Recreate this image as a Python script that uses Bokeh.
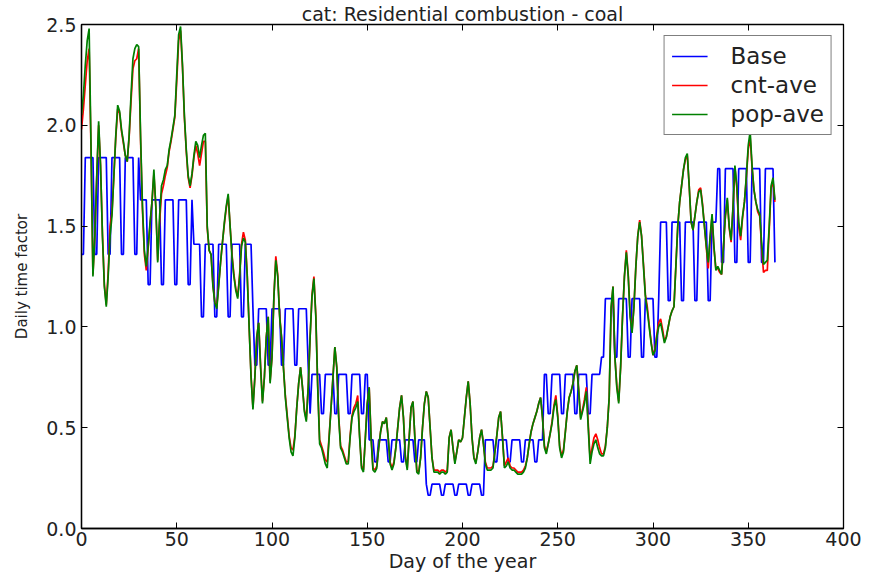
from bokeh.plotting import figure
from bokeh.models import (Range1d, LinearAxis, FixedTicker, PrintfTickFormatter,
                          Legend, LegendItem, ColumnDataSource)
from bokeh.embed import file_html
from bokeh.resources import INLINE

# ---------------- data ----------------
title_text = "cat: Residential combustion - coal"
x_label = "Day of the year"
y_label = "Daily time factor"
series_names = ["Base", "cnt-ave", "pop-ave"]

x_ticks = [0, 50, 100, 150, 200, 250, 300, 350, 400]
y_ticks = [0.0, 0.5, 1.0, 1.5, 2.0, 2.5]

# Base profile: monthly level on weekdays / weekend days (day 0 = Saturday 1 Jan)
month_lengths = [31, 28, 31, 30, 31, 30, 31, 31, 30, 31, 30, 31]
base_weekday = [1.84, 1.63, 1.41, 1.09, 0.765, 0.44, 0.22, 0.44, 0.765, 1.14, 1.52, 1.785]
base_weekend = [1.36, 1.21, 1.05, 0.81, 0.57, 0.33, 0.165, 0.33, 0.57, 0.85, 1.13, 1.32]
week_pattern = ["we", "we", "wd", "wd", "wd", "wd", "wd"]

pop_ave = [
    2.05, 2.15, 2.30, 2.42, 2.48, 1.90, 1.25, 1.45, 1.75, 2.02,
    1.80, 1.45, 1.20, 1.10, 1.25, 1.45, 1.55, 1.75, 1.95, 2.10,
    2.07, 1.98, 1.92, 1.85, 1.82, 1.95, 2.15, 2.33, 2.38, 2.40,
    2.39, 1.95, 1.60, 1.38, 1.30, 1.40, 1.52, 1.62, 1.78, 1.60,
    1.32, 1.55, 1.70, 1.73, 1.78, 1.80, 1.88, 1.93, 1.99, 2.05,
    2.25, 2.45, 2.49, 2.30, 2.05, 1.88, 1.75, 1.70, 1.76, 1.85,
    1.92, 1.90, 1.84, 1.90, 1.95, 1.96, 1.50, 1.38, 1.36, 1.20,
    1.12, 1.09, 1.20, 1.32, 1.42, 1.52, 1.60, 1.66, 1.50, 1.35,
    1.25, 1.18, 1.14, 1.25, 1.40, 1.44, 1.42, 1.25, 1.00, 0.75,
    0.59, 0.75, 0.95, 1.02, 0.80, 0.62, 0.75, 0.95, 1.05, 0.72,
    0.85, 1.15, 1.33, 1.25, 1.05, 0.95, 0.80, 0.65, 0.55, 0.45,
    0.38, 0.36, 0.45, 0.60, 0.72, 0.80, 0.70, 0.58, 0.53, 0.70,
    0.95, 1.15, 1.24, 1.05, 0.70, 0.42, 0.40, 0.36, 0.32, 0.30,
    0.45, 0.60, 0.75, 0.90, 0.80, 0.55, 0.40, 0.38, 0.35, 0.32,
    0.32, 0.45, 0.55, 0.58, 0.60, 0.63, 0.45, 0.30, 0.28, 0.45,
    0.62, 0.70, 0.45, 0.29, 0.28, 0.30, 0.40, 0.48, 0.53, 0.52,
    0.55, 0.45, 0.32, 0.29, 0.32, 0.40, 0.50, 0.60, 0.66, 0.55,
    0.35, 0.29, 0.45, 0.60, 0.63, 0.45, 0.28, 0.27, 0.35, 0.50,
    0.62, 0.68, 0.65, 0.50, 0.35, 0.28, 0.28, 0.28, 0.27, 0.28,
    0.28, 0.27, 0.28, 0.45, 0.49, 0.40, 0.32, 0.38, 0.44, 0.43,
    0.45, 0.55, 0.65, 0.73, 0.62, 0.45, 0.35, 0.32, 0.38, 0.45,
    0.49, 0.42, 0.32, 0.29, 0.29, 0.29, 0.30, 0.38, 0.46, 0.55,
    0.58, 0.45, 0.30, 0.31, 0.33, 0.30, 0.29, 0.29, 0.28, 0.27,
    0.27, 0.27, 0.28, 0.30, 0.35, 0.42, 0.48, 0.52, 0.55, 0.58,
    0.62, 0.65, 0.55, 0.40, 0.37, 0.42, 0.47, 0.52, 0.60, 0.64,
    0.55, 0.40, 0.35, 0.38, 0.48, 0.58, 0.65, 0.68, 0.72, 0.78,
    0.81, 0.68, 0.54, 0.58, 0.62, 0.68, 0.50, 0.32, 0.38, 0.42,
    0.44, 0.40, 0.37, 0.36, 0.36, 0.40, 0.50, 0.65, 1.10, 1.20,
    0.85, 0.70, 0.62, 0.80, 1.05, 1.25, 1.37, 1.25, 1.05, 0.97,
    1.10, 1.30, 1.45, 1.52, 1.45, 1.30, 1.15, 1.08, 1.00, 0.92,
    0.86, 0.88, 0.95, 1.00, 1.02, 0.97, 0.92, 0.95, 1.00, 1.05,
    1.08, 1.10, 1.30, 1.50, 1.62, 1.70, 1.78, 1.84, 1.86, 1.70,
    1.52, 1.48, 1.55, 1.62, 1.67, 1.68, 1.60, 1.50, 1.40, 1.32,
    1.45, 1.56, 1.40, 1.28, 1.30, 1.28, 1.26, 1.40, 1.55, 1.64,
    1.50, 1.43, 1.60, 1.80, 1.70, 1.52, 1.45, 1.55, 1.62, 1.75,
    1.90, 1.97, 1.80, 1.68, 1.62, 1.58, 1.56, 1.42, 1.31, 1.32,
    1.33, 1.50, 1.70, 1.74, 1.63,
]

cnt_ave = [
    1.98, 2.08, 2.20, 2.32, 2.38, 1.88, 1.26, 1.45, 1.74, 2.00,
    1.80, 1.46, 1.21, 1.11, 1.27, 1.50, 1.57, 1.75, 1.94, 2.08,
    2.06, 1.97, 1.91, 1.85, 1.82, 1.94, 2.12, 2.28, 2.32, 2.33,
    2.38, 1.93, 1.58, 1.36, 1.28, 1.39, 1.51, 1.62, 1.76, 1.60,
    1.33, 1.52, 1.66, 1.70, 1.75, 1.79, 1.87, 1.92, 1.98, 2.04,
    2.22, 2.42, 2.47, 2.29, 2.04, 1.87, 1.74, 1.69, 1.75, 1.84,
    1.90, 1.86, 1.80, 1.86, 1.92, 1.92, 1.49, 1.38, 1.36, 1.21,
    1.12, 1.10, 1.21, 1.32, 1.42, 1.51, 1.59, 1.65, 1.50, 1.36,
    1.26, 1.19, 1.15, 1.26, 1.41, 1.47, 1.43, 1.26, 1.00, 0.76,
    0.60, 0.75, 0.95, 1.02, 0.81, 0.63, 0.75, 0.95, 1.05, 0.73,
    0.85, 1.15, 1.35, 1.26, 1.06, 0.95, 0.80, 0.66, 0.56, 0.46,
    0.40, 0.39, 0.46, 0.60, 0.72, 0.80, 0.70, 0.59, 0.54, 0.70,
    0.95, 1.16, 1.25, 1.06, 0.71, 0.44, 0.41, 0.38, 0.34, 0.33,
    0.46, 0.60, 0.75, 0.90, 0.80, 0.56, 0.41, 0.39, 0.36, 0.33,
    0.33, 0.46, 0.56, 0.60, 0.62, 0.66, 0.46, 0.31, 0.29, 0.45,
    0.62, 0.70, 0.46, 0.30, 0.29, 0.31, 0.40, 0.48, 0.53, 0.52,
    0.55, 0.45, 0.33, 0.30, 0.33, 0.40, 0.50, 0.60, 0.66, 0.55,
    0.36, 0.30, 0.45, 0.60, 0.63, 0.45, 0.29, 0.28, 0.35, 0.50,
    0.62, 0.68, 0.65, 0.50, 0.35, 0.29, 0.29, 0.29, 0.28, 0.29,
    0.29, 0.28, 0.29, 0.45, 0.49, 0.40, 0.33, 0.38, 0.44, 0.43,
    0.45, 0.55, 0.65, 0.73, 0.62, 0.45, 0.35, 0.33, 0.38, 0.45,
    0.49, 0.42, 0.33, 0.30, 0.30, 0.30, 0.31, 0.38, 0.46, 0.55,
    0.58, 0.45, 0.31, 0.33, 0.35, 0.31, 0.30, 0.30, 0.29, 0.28,
    0.28, 0.28, 0.29, 0.31, 0.35, 0.42, 0.48, 0.52, 0.55, 0.58,
    0.62, 0.65, 0.55, 0.41, 0.38, 0.42, 0.47, 0.53, 0.61, 0.66,
    0.56, 0.41, 0.36, 0.39, 0.48, 0.58, 0.65, 0.68, 0.72, 0.78,
    0.81, 0.69, 0.55, 0.59, 0.64, 0.70, 0.52, 0.34, 0.40, 0.45,
    0.47, 0.44, 0.40, 0.37, 0.37, 0.41, 0.50, 0.65, 1.08, 1.20,
    0.85, 0.71, 0.63, 0.80, 1.05, 1.25, 1.38, 1.26, 1.06, 0.98,
    1.10, 1.30, 1.45, 1.53, 1.45, 1.31, 1.16, 1.10, 1.01, 0.93,
    0.86, 0.89, 0.96, 1.02, 1.04, 0.99, 0.93, 0.95, 1.00, 1.05,
    1.08, 1.10, 1.30, 1.50, 1.62, 1.70, 1.78, 1.83, 1.85, 1.70,
    1.52, 1.48, 1.55, 1.62, 1.68, 1.69, 1.61, 1.50, 1.39, 1.29,
    1.44, 1.55, 1.39, 1.29, 1.29, 1.27, 1.26, 1.40, 1.55, 1.63,
    1.49, 1.42, 1.59, 1.79, 1.69, 1.50, 1.43, 1.54, 1.62, 1.74,
    1.88, 1.94, 1.79, 1.68, 1.62, 1.57, 1.55, 1.40, 1.27, 1.28,
    1.28, 1.48, 1.69, 1.72, 1.62,
]

# expand Base daily series from the monthly levels and weekly pattern
base = []
for m, n in enumerate(month_lengths):
    for _ in range(n):
        d = len(base)
        kind = week_pattern[d % 7]
        base.append(base_weekday[m] if kind == "wd" else base_weekend[m])
days = list(range(len(base)))

src = ColumnDataSource(dict(day=days, base=base, cnt=cnt_ave, pop=pop_ave))

# ---------------- figure ----------------
FONT = "DejaVu Sans"
TXT = "#222222"
p = figure(width=864, height=574, output_backend="svg", toolbar_location=None,
           x_range=Range1d(0, 400), y_range=Range1d(0, 2.5),
           min_border_left=81, min_border_right=21, min_border_top=24,
           min_border_bottom=46, title=title_text)
p.background_fill_color = "white"
p.border_fill_color = "white"
p.grid.visible = False
p.outline_line_color = "black"
p.outline_line_width = 1.3

p.title.text_font = FONT
p.title.text_font_size = "19px"
p.title.text_font_style = "normal"
p.title.text_color = TXT
p.title.align = "center"
p.title.standoff = 0

r_base = p.line("day", "base", source=src, line_color="#0000ff", line_width=1.7)
r_cnt = p.line("day", "cnt", source=src, line_color="#ff0000", line_width=1.7)
r_pop = p.line("day", "pop", source=src, line_color="#008000", line_width=1.7)

# axes
xax = p.xaxis[0]
yax = p.yaxis[0]
xax.ticker = FixedTicker(ticks=x_ticks)
yax.ticker = FixedTicker(ticks=y_ticks)
yax.formatter = PrintfTickFormatter(format="%.1f")
xax.axis_label = x_label
yax.axis_label = y_label

for ax in (xax, yax):
    ax.major_tick_in = 6
    ax.major_tick_out = 0
    ax.minor_tick_line_color = None
    ax.axis_line_color = "black"
    ax.axis_line_width = 1.3
    ax.major_tick_line_color = "black"
    ax.major_label_text_font = FONT
    ax.major_label_text_font_size = "19px"
    ax.major_label_text_color = TXT
    ax.axis_label_text_font = FONT
    ax.axis_label_text_font_style = "normal"
    ax.axis_label_text_color = TXT

xax.major_label_standoff = 3
xax.axis_label_standoff = 1
xax.axis_label_text_font_size = "19px"
yax.major_label_standoff = 5
yax.axis_label_standoff = 12
yax.axis_label_text_font_size = "15px"

# mirrored inward ticks on top and right (no labels)
top_ax = LinearAxis(ticker=FixedTicker(ticks=x_ticks), major_label_text_color=None,
                    major_label_text_font_size="1px",
                    major_tick_in=6, major_tick_out=0, minor_tick_line_color=None,
                    axis_line_color="black", major_label_standoff=0)
right_ax = LinearAxis(ticker=FixedTicker(ticks=y_ticks), major_label_text_color=None,
                      major_label_text_font_size="1px",
                      major_tick_in=6, major_tick_out=0, minor_tick_line_color=None,
                      axis_line_color="black", major_label_standoff=0)
p.add_layout(top_ax, "above")
p.add_layout(right_ax, "right")

legend = Legend(items=[LegendItem(label=series_names[0], renderers=[r_base]),
                       LegendItem(label=series_names[1], renderers=[r_cnt]),
                       LegendItem(label=series_names[2], renderers=[r_pop])],
                location="top_right")
legend.margin = 11
legend.padding = 7
legend.spacing = 3
legend.glyph_width = 36
legend.glyph_height = 22
legend.label_height = 22
legend.label_standoff = 23
legend.label_text_font = FONT
legend.label_text_font_size = "23px"
legend.label_text_color = TXT
legend.border_line_color = "black"
legend.border_line_width = 1.5
legend.background_fill_color = "white"
legend.background_fill_alpha = 1.0
p.add_layout(legend)

open("out.html", "w").write(file_html(p, INLINE))
